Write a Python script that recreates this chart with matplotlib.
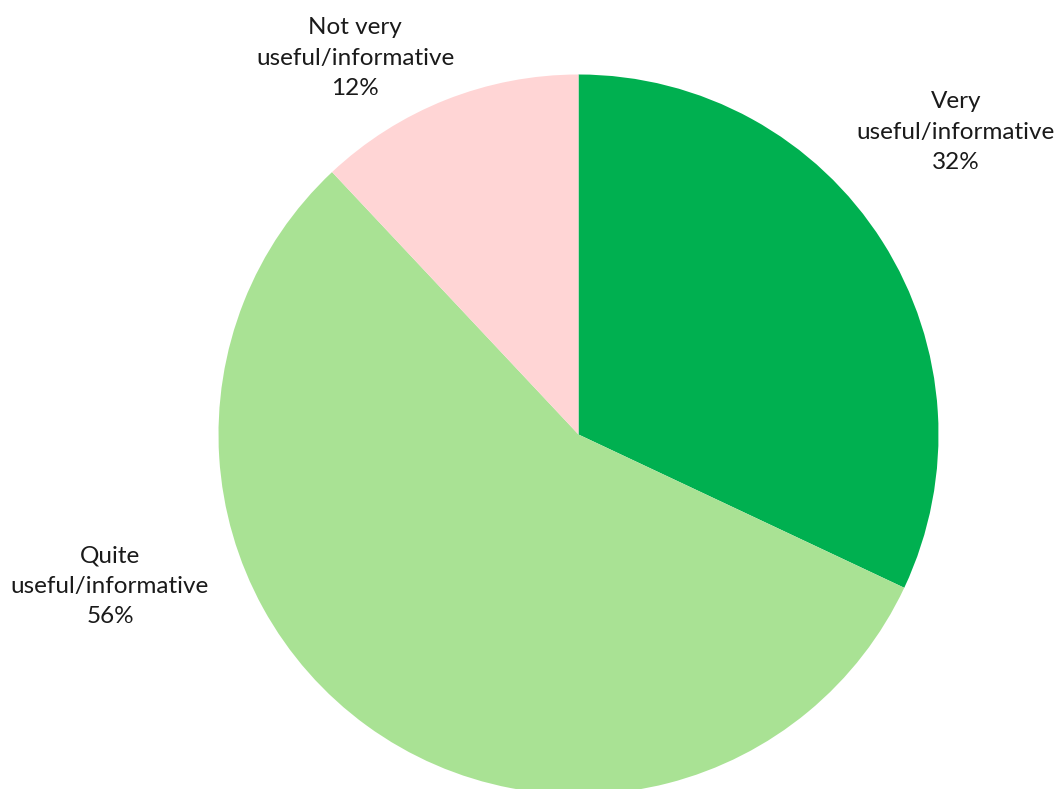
import matplotlib.pyplot as plt

# data
labels = ["Very\nuseful/informative", "Quite\nuseful/informative", "Not very\nuseful/informative"]
shares = [32, 56, 12]
colors = ["#00B050", "#A9E294", "#FFD5D5"]

# label anchor points, in pixel units (top-left origin)
label_xy = [(956, 132), (110, 586), (355, 58)]

W, H = 1060, 789
fig = plt.figure(figsize=(W / 100, H / 100), dpi=100)
ax = fig.add_axes([0, 0, 1, 1])

ax.pie(shares, colors=colors, startangle=90, counterclock=False,
       center=(578.5, H - 434.5), radius=360, frame=True,
       wedgeprops=dict(linewidth=0))
ax.set_xlim(0, W)
ax.set_ylim(0, H)
ax.set_aspect("equal")
ax.axis("off")

for lab, val, (x, y) in zip(labels, shares, label_xy):
    ax.text(x, H - y, f"{lab}\n{val}%", ha="center", va="center",
            fontsize=17.5, family="Lato", color="#1a1a1a", linespacing=1.55)

fig.savefig("out.png", dpi=100)
